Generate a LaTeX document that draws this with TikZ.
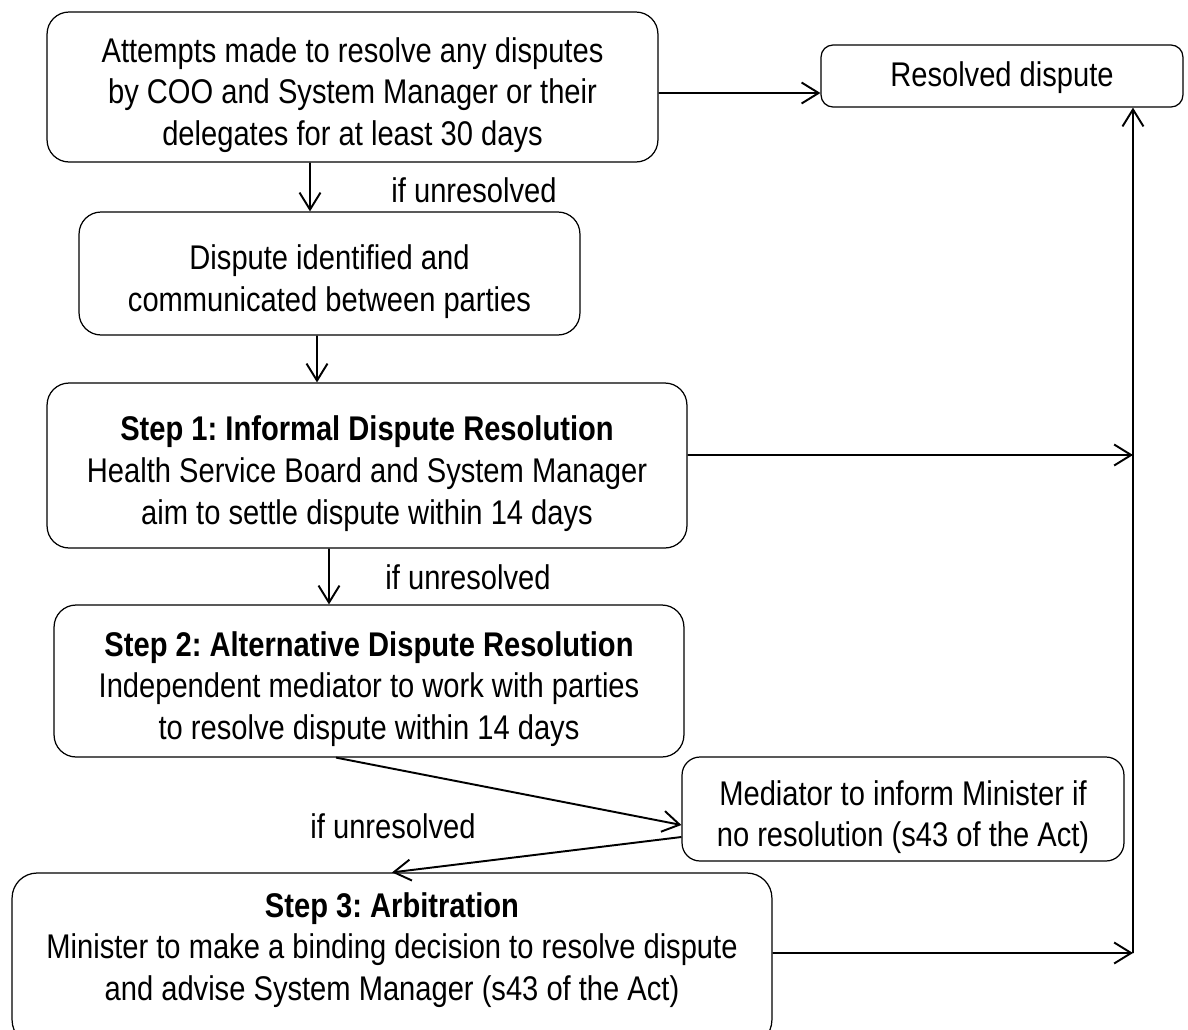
\documentclass[tikz,border=0pt]{standalone}
\usepackage{fontspec}
\setmainfont[FakeStretch=0.85]{Liberation Sans}
\frenchspacing
\usetikzlibrary{arrows.meta}
\newcommand{\lift}{\rule{0pt}{0.82cm}}

\begin{document}
\begin{tikzpicture}[x=0.02cm,y=-0.02cm,>={Straight Barb[length=0.34cm,width=0.42cm]},
  font=\fontsize{19.5}{23.8}\selectfont]
  % styles
  \tikzstyle{stage} = [rectangle,draw=black,line width=0.7pt,rounded corners=0.44cm,align=center,inner sep=0pt];
  \tikzstyle{link} = [->,line width=1.1pt];
  \tikzstyle{note} = [inner sep=0pt];

  \useasboundingbox (0,0) rectangle (1188,1029);

  % nodes
  \node[stage,minimum width=12.22cm,minimum height=3cm] (attempts) at (352.5,87)
    {\lift Attempts made to resolve any disputes\\ by COO and System Manager or their\\ delegates for at least 30 days};
  \node[stage,minimum width=7.24cm,minimum height=1.24cm,rounded corners=0.24cm,
    execute at begin node={\rule{0pt}{0.56cm}}] (resolved) at (1002,76)
    {Resolved dispute};
  \node[stage,minimum width=10.02cm,minimum height=2.46cm] (identified) at (329.5,273.5)
    {\lift Dispute identified and\\ communicated between parties};
  \node[stage,minimum width=12.8cm,minimum height=3.3cm] (step1) at (367,465.5)
    {\lift\textbf{Step 1: Informal Dispute Resolution}\\ Health Service Board and System Manager\\ aim to settle dispute within 14 days};
  \node[stage,minimum width=12.6cm,minimum height=3.04cm] (step2) at (369,681)
    {\lift\textbf{Step 2: Alternative Dispute Resolution}\\ Independent mediator to work with parties\\ to resolve dispute within 14 days};
  \node[stage,minimum width=8.84cm,minimum height=2.08cm,rounded corners=0.36cm] (mediator) at (903,809)
    {\lift Mediator to inform Minister if\\ no resolution (s43 of the Act)};
  \node[stage,minimum width=15.2cm,minimum height=3.44cm,rounded corners=0.5cm,
    execute at end node={\rule[-0.5cm]{0pt}{0pt}}] (step3) at (392,959)
    {\textbf{Step 3: Arbitration}\\ Minister to make a binding decision to resolve dispute\\ and advise System Manager (s43 of the Act)};

  \node[note] (unres1) at (474,190) {if unresolved};
  \node[note] (unres2) at (468,577) {if unresolved};
  \node[note] (unres3) at (393,826) {if unresolved};

  \coordinate (join1) at (1133,455);
  \coordinate (join3) at (1133,953);

  % edges
  \draw[link] ([yshift=-0.12cm]attempts.east) -- ([yshift=-0.34cm]resolved.west);
  \draw[link] ([xshift=-0.85cm]attempts.south) -- ([xshift=-0.39cm]identified.north);
  \draw[link] ([xshift=-0.25cm]identified.south) -- ([xshift=-1.0cm]step1.north);
  \draw[link] ([xshift=-0.76cm]step1.south) -- ([xshift=-0.8cm]step2.north);
  \draw[link] ([xshift=-0.66cm]step2.south) -- ([yshift=-0.32cm]mediator.west);
  \draw[link] ([yshift=-0.56cm]mediator.west) -- (step3.north);
  \draw[link] ([yshift=0.21cm]step1.east) -- (join1);
  \draw[link] ([yshift=0.12cm]step3.east) -- (join3);
  \draw[link] (join3) -- ([xshift=2.62cm]resolved.south);
\end{tikzpicture}
\end{document}
